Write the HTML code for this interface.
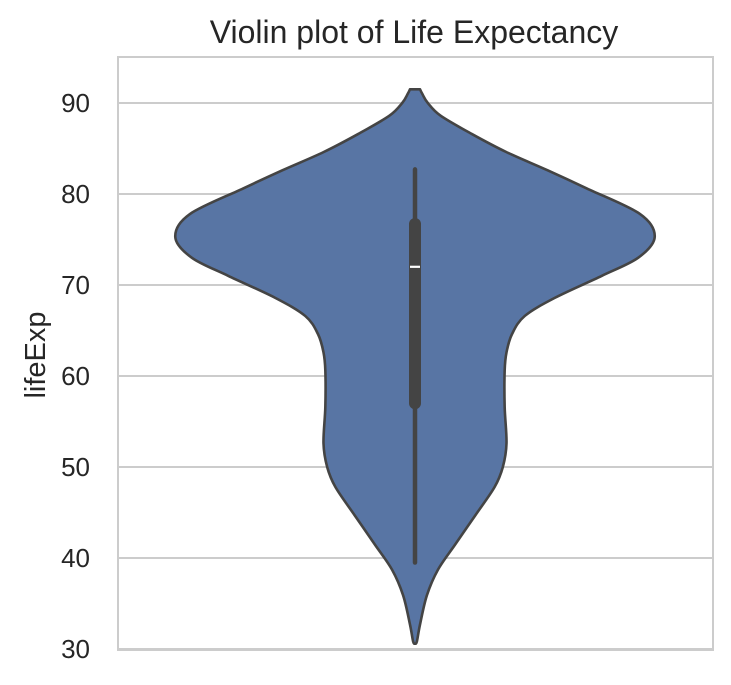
<!DOCTYPE html>
<html><head><meta charset="utf-8"><style>
html,body{margin:0;padding:0;background:#fff;}
svg{display:block;font-family:"Liberation Sans",Arial,sans-serif;}
</style></head><body>
<svg id="chart" width="731" height="685" viewBox="0 0 731 685">
<rect x="0" y="0" width="731" height="685" fill="#fff"/>
<text x="414" y="43" text-anchor="middle" font-size="32" fill="#262626">Violin plot of Life Expectancy</text>
<text transform="translate(45,355) rotate(-90)" text-anchor="middle" font-size="29" fill="#262626">lifeExp</text>
<g id="grid"></g>
<g id="violin"></g>
<rect x="118" y="57" width="595" height="593" fill="none" stroke="#cccccc" stroke-width="2"/>
</svg>
<script>
const yTicks = [30, 40, 50, 60, 70, 80, 90];
const levels = [30.6, 30.8, 32.7, 35.9, 38.7, 41.5, 44.7, 47.8, 50, 52.6, 56.6, 60.6, 62.6, 64.6, 66.6, 68.6, 71.0, 73.0, 75.3, 77.8, 80.6, 82.6, 84.6, 86.6, 88.6, 90, 91.0, 91.5];
const halfWidth = [0, 2, 5.5, 13, 25, 44, 66, 87, 96, 100, 98, 98, 100, 106, 120, 153, 204, 244, 262, 246, 188, 145, 100, 62, 28, 14, 8, 5.5];
const whiskerLow = [39.5];
const whiskerHigh = [82.7];
const boxQ1 = [57];
const boxQ3 = [76.7];
const medianVal = [72];

const NS = "http://www.w3.org/2000/svg";
const x0 = 118, x1 = 713, cx = 415;
function yScale(v){ return 103 + (90 - v) * 9.1; }
function wScale(d){ return d * 0.915; }
const grid = document.getElementById('grid');
const vg = document.getElementById('violin');
function mk(tag, attrs, parent){ const e = document.createElementNS(NS, tag); for (const k in attrs) e.setAttribute(k, attrs[k]); parent.appendChild(e); return e; }

yTicks.forEach(t => {
  const y = yScale(t);
  const l = mk('line', {x1: x0, x2: x1, y1: y, y2: y, stroke: '#cccccc', 'stroke-width': 2}, grid);
  
  
  const tx = mk('text', {x: 90, y: y + 9, 'text-anchor': 'end', 'font-size': 26, fill: '#262626'}, grid);
  tx.textContent = t;
  
  
});

const right = levels.map((v, i) => [cx + wScale(halfWidth[i]), yScale(v)]);
const left = levels.map((v, i) => [cx - wScale(halfWidth[i]), yScale(v)]).reverse();
function spline(pts){
  let d = '';
  for (let i = 0; i < pts.length - 1; i++){
    const p0 = pts[Math.max(0, i - 1)], p1 = pts[i], p2 = pts[i + 1], p3 = pts[Math.min(pts.length - 1, i + 2)];
    const c1 = [p1[0] + (p2[0] - p0[0]) / 6, p1[1] + (p2[1] - p0[1]) / 6];
    const c2 = [p2[0] - (p3[0] - p1[0]) / 6, p2[1] - (p3[1] - p1[1]) / 6];
    d += ' C' + c1[0] + ',' + c1[1] + ' ' + c2[0] + ',' + c2[1] + ' ' + p2[0] + ',' + p2[1];
  }
  return d;
}
let d = 'M' + right[0][0] + ',' + right[0][1] + spline(right) + ' L' + left[0][0] + ',' + left[0][1] + spline(left) + ' Z';
const body = mk('path', {d: d, fill: '#5875a4', stroke: '#444444', 'stroke-width': 2.6, 'stroke-linejoin': 'round'}, vg);



const wh = mk('line', {x1: cx, x2: cx, y1: yScale(whiskerLow[0]), y2: yScale(whiskerHigh[0]), stroke: '#444444', 'stroke-width': 4.5, 'stroke-linecap': 'round'}, vg);


const bx = mk('line', {x1: cx, x2: cx, y1: yScale(boxQ1[0]), y2: yScale(boxQ3[0]), stroke: '#444444', 'stroke-width': 12, 'stroke-linecap': 'round'}, vg);


const md = mk('line', {x1: cx - 5, x2: cx + 5, y1: yScale(medianVal[0]), y2: yScale(medianVal[0]), stroke: '#ffffff', 'stroke-width': 2.2}, vg);


</script>
</body></html>
